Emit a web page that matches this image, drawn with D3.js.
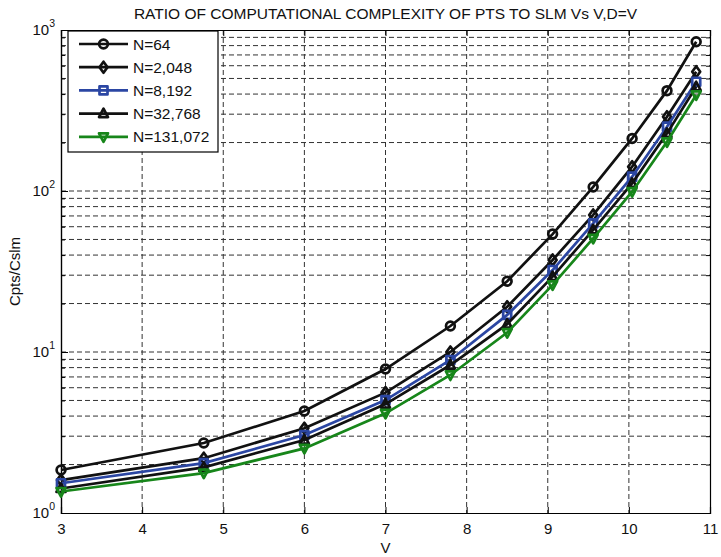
<!DOCTYPE html>
<html>
<head>
<meta charset="utf-8">
<script src="https://cdn.jsdelivr.net/npm/d3@7"></script>
<style>
  body { margin: 0; background: #fff; }
  text { font-family: "Liberation Sans", Arial, sans-serif; }
</style>
</head>
<body>
<div id="chart"></div>
<script>
// values
var vValues = [3, 4.76, 6, 7, 7.8, 8.5, 9.06, 9.56, 10.04, 10.47, 10.83];
var n64 = [1.85, 2.72, 4.3, 7.84, 14.5, 27.5, 54, 106, 212, 420, 846];
var n2048 = [1.6, 2.19, 3.36, 5.59, 10.0, 19.1, 37.3, 71, 141.6, 289, 551];
var n8192 = [1.53, 2.04, 3.05, 5.03, 8.92, 17.0, 32.3, 63, 122.7, 251, 477];
var n32768 = [1.42, 1.92, 2.84, 4.75, 8.3, 14.9, 29.4, 57.3, 111.6, 228, 444];
var n131072 = [1.36, 1.77, 2.52, 4.16, 7.2, 13.2, 26.1, 50.8, 99, 202, 395];
var seriesNames = ["N=64", "N=2,048", "N=8,192", "N=32,768", "N=131,072"];
var xTicks = [3, 4, 5, 6, 7, 8, 9, 10, 11];
var yTicks = [1, 10, 100, 1000];

var svgWidth = 721, svgHeight = 557;
var margin = {top: 30, right: 11, bottom: 44, left: 61};
var width = svgWidth - margin.left - margin.right;
var height = svgHeight - margin.top - margin.bottom;

var svg = d3.select("#chart").append("svg")
    .attr("width", svgWidth)
    .attr("height", svgHeight);

var g = svg.append("g")
    .attr("transform", `translate(${margin.left}, ${margin.top})`);

var scaleX = d3.scaleLinear().domain([3, 11]).range([0, width]);
var scaleY = d3.scaleLog().domain([1, 1000]).range([height, 0]);

// minor log ticks 1..9 in each decade
var minorY = [];
[1, 10, 100].forEach(d => { for (var k = 1; k < 10; k++) minorY.push(d * k); });

// grid
var grid = g.append("g").attr("stroke", "#000").attr("stroke-width", 1)
    .attr("stroke-dasharray", "5,3").attr("opacity", 0.8);
grid.selectAll(".gy").data(minorY.filter(d => d > 1)).enter().append("line")
    .attr("x1", 0).attr("x2", width)
    .attr("y1", d => scaleY(d)).attr("y2", d => scaleY(d));
grid.selectAll(".gx").data(xTicks.slice(1, -1)).enter().append("line")
    .attr("y1", 0).attr("y2", height)
    .attr("x1", d => scaleX(d)).attr("x2", d => scaleX(d));

// axes with inside ticks
var bottomAxis = d3.axisBottom(scaleX).tickValues(xTicks).tickSize(-6).tickPadding(10);
var topAxis = d3.axisTop(scaleX).tickValues(xTicks).tickSize(-6).tickFormat("");
var leftMinor = d3.axisLeft(scaleY).tickValues(minorY).tickSize(-4).tickFormat("");
var rightMinor = d3.axisRight(scaleY).tickValues(minorY).tickSize(-4).tickFormat("");
var leftMajor = d3.axisLeft(scaleY).tickValues(yTicks).tickSize(-7).tickFormat("");

function styleAxis(sel) {
  sel.select(".domain").attr("stroke", "#000").attr("stroke-width", 1.2);
  sel.selectAll(".tick line").attr("stroke", "#000");
}
var xAx = g.append("g").attr("transform", `translate(0, ${height})`).call(bottomAxis).call(styleAxis);
xAx.selectAll("text").attr("font-size", 15).attr("fill", "#111")
    .attr("font-family", "Liberation Sans, Arial, sans-serif");
g.append("g").call(topAxis).call(styleAxis);
g.append("g").call(leftMinor).call(styleAxis);
g.append("g").attr("transform", `translate(${width}, 0)`).call(rightMinor).call(styleAxis);
g.append("g").call(leftMajor).call(styleAxis);

// y tick labels as 10^n
var yLab = g.append("g");
yTicks.forEach(function(d) {
  var t = yLab.append("text")
      .attr("x", -6).attr("y", scaleY(d) + 5)
      .attr("text-anchor", "end").attr("font-size", 15).attr("fill", "#111");
  t.append("tspan").text("10");
  t.append("tspan").attr("dy", -8).attr("font-size", 10.5).text(Math.round(Math.log10(d)));
});

// series
var series = [
  {name: seriesNames[0], vals: n64, color: "#111", shape: "circle"},
  {name: seriesNames[1], vals: n2048, color: "#111", shape: "diamond"},
  {name: seriesNames[2], vals: n8192, color: "#2b46a3", shape: "square"},
  {name: seriesNames[3], vals: n32768, color: "#111", shape: "up"},
  {name: seriesNames[4], vals: n131072, color: "#17861a", shape: "down"}
];

function markerPath(shape) {
  if (shape === "circle") return d3.symbol(d3.symbolCircle, 60)();
  if (shape === "diamond") return "M0,-5.5L4,0L0,5.5L-4,0Z";
  if (shape === "square") return d3.symbol(d3.symbolSquare, 64)();
  if (shape === "up") return "M0,-5L4.5,3.5L-4.5,3.5Z";
  return "M0,5L4.5,-3.5L-4.5,-3.5Z";
}

var line = d3.line().x(d => scaleX(d[0])).y(d => scaleY(d[1]));

series.forEach(function(s) {
  var pts = vValues.map((v, i) => [v, s.vals[i]]);
  g.append("path").datum(pts)
      .attr("d", line)
      .attr("fill", "none")
      .attr("stroke", s.color)
      .attr("stroke-width", 2.7);
  g.selectAll(null).data(pts).enter().append("path")
      .attr("transform", d => `translate(${scaleX(d[0])}, ${scaleY(d[1])})`)
      .attr("d", markerPath(s.shape))
      .attr("fill", "none")
      .attr("stroke", s.color)
      .attr("stroke-width", 2.7)
      .attr("stroke-linejoin", "round");
});

// legend
var legend = g.append("g").attr("transform", "translate(7, 1)");
legend.append("rect")
    .attr("width", 150).attr("height", 121)
    .attr("fill", "#fff").attr("stroke", "#000").attr("stroke-width", 1.2);
series.forEach(function(s, i) {
  var y = 13 + i * 23.2;
  legend.append("line").attr("x1", 11).attr("x2", 60).attr("y1", y).attr("y2", y)
      .attr("stroke", s.color).attr("stroke-width", 2.7);
  legend.append("path").attr("transform", `translate(35.5, ${y})`)
      .attr("d", markerPath(s.shape))
      .attr("fill", "none").attr("stroke", s.color).attr("stroke-width", 2.7)
      .attr("stroke-linejoin", "round");
  legend.append("text").attr("x", 65).attr("y", y + 5.5)
      .attr("font-size", 15.5).attr("fill", "#111").text(s.name);
});

// title and axis labels
svg.append("text")
    .attr("x", margin.left + width / 2).attr("y", 19)
    .attr("text-anchor", "middle").attr("font-size", 15.5).attr("fill", "#111")
    .text("RATIO OF COMPUTATIONAL COMPLEXITY OF PTS TO SLM Vs V,D=V");
svg.append("text")
    .attr("x", margin.left + width / 2).attr("y", 553)
    .attr("text-anchor", "middle").attr("font-size", 15).attr("fill", "#111")
    .text("V");
svg.append("text")
    .attr("transform", `translate(20, ${margin.top + height / 2}) rotate(-90)`)
    .attr("text-anchor", "middle").attr("font-size", 15).attr("fill", "#111")
    .text("Cpts/Cslm");
</script>
</body>
</html>
